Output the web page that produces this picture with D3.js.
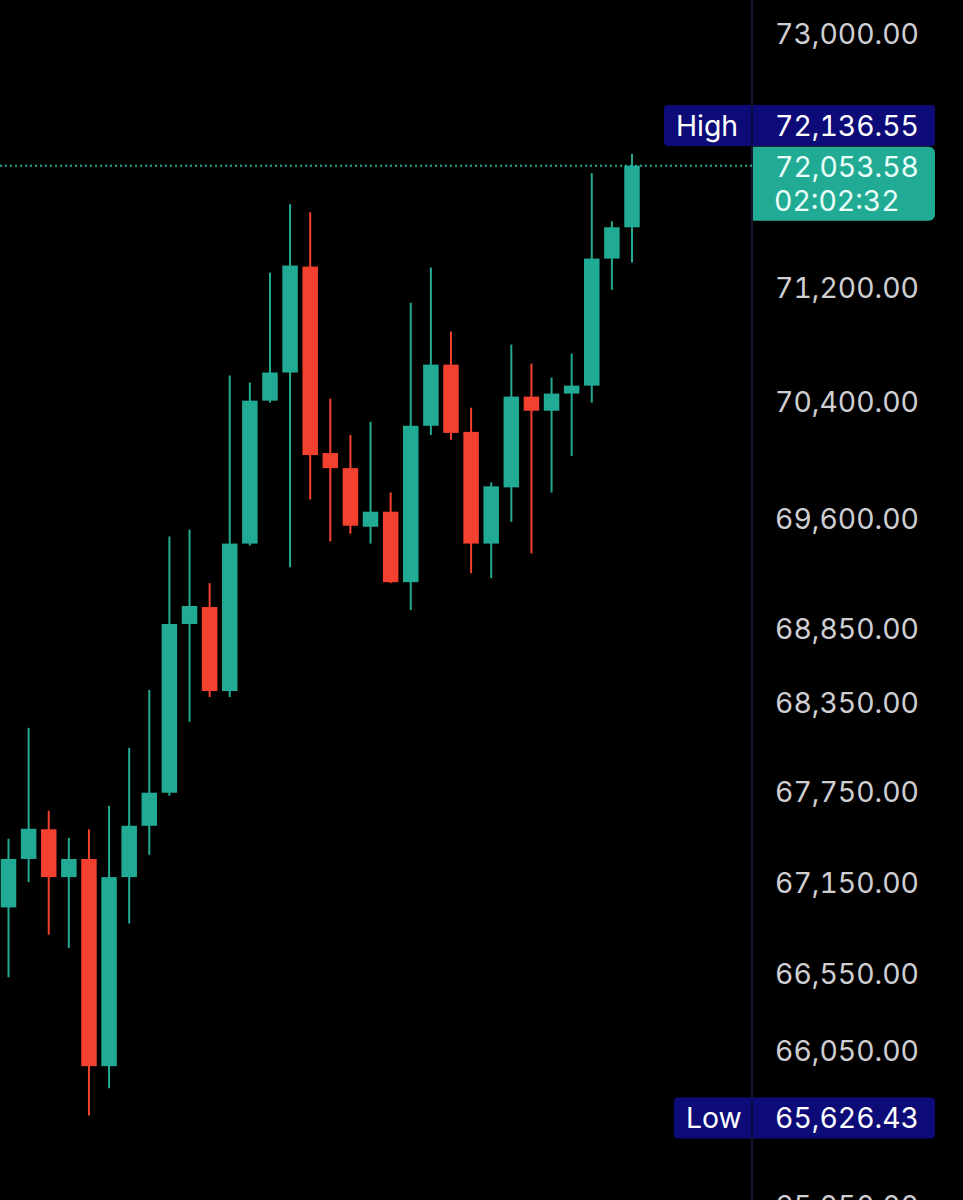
<!DOCTYPE html>
<html><head><meta charset="utf-8">
<script src="https://cdn.jsdelivr.net/npm/d3@7"></script>
<style>html,body{margin:0;padding:0;background:#000;overflow:hidden}
text{font-variant-numeric:tabular-nums;font-feature-settings:"tnum" 1;}</style>
</head><body>
<svg id="c" width="963" height="1200"></svg>
<script>
// ---- data ----
const opens  = [66983,67303,67500,67183,67303,65945,67183,67523,67743,68877,68992,68424,69424,70407,70602,71342,70045,69941,69539,69642,69161,70233,70657,70191,69424,69809,70435,70337,70456,70511,71398,71618];
const highs  = [67437,68177,67623,67443,67500,67657,68043,68431,69472,69519,69154,70581,70532,71299,71781,71724,70421,70170,70261,69774,71089,71335,70887,70358,69843,70796,70664,70567,70734,72001,71661,72136.55];
const lows   = [66524,67150,66803,66717,65626.43,65802,66877,67330,67723,68217,68384,68384,69411,70393,69262,69725,69438,69492,69424,69154,68972,70170,70136,69222,69188,69573,69357,69774,70024,70393,71179,71370];
const closes = [67303,67503,67183,67303,65945,67183,67523,67743,68877,68999,68424,69424,70407,70602,71349,70031,69941,69546,69642,69161,70233,70657,70184,69424,69816,70435,70337,70456,70511,71398,71618,72053.58];
const tickValues = [73000,71200,70400,69600,68850,68350,67750,67150,66550,66050,65050];
const highValue = 72136.55;
const lowValue = 65626.43;
const lastPrice = 72053.58;
const countdown = "02:02:32";
const highText = "High";
const lowText = "Low";

// ---- styles ----
const UP = "#22ab94", DOWN = "#f4402f", NAVY = "#0c0b78", AXISLINE = "#14142e", TICK = "#cfcfd3";
const FONT = "Inter, 'Noto Sans', sans-serif";

const svg = d3.select("#c");
svg.append("rect").attr("width",963).attr("height",1200).attr("fill","#000");

const y = d3.scaleLog().domain([73000,66050]).range([33,1050]);
const idx = d3.range(opens.length);
const x = d3.scaleLinear().domain([0, opens.length-1]).range([8.5, 632]);
const fmt = d3.format(",.2f");

// fit font size so "73,000.00" is ~144px wide
const probe = svg.append("text").attr("font-family",FONT).attr("font-size",100).text("73,000.00");
const w100 = probe.node().getComputedTextLength();
probe.remove();
const FS = 100*144/w100;

// axis separator
svg.append("line").attr("x1",752).attr("x2",752).attr("y1",0).attr("y2",1200)
  .attr("stroke",AXISLINE).attr("stroke-width",2);

// candles
const g = svg.append("g");
const c = g.selectAll("g.candle").data(idx).join("g").attr("class","candle");
c.append("line")
  .attr("x1",i=>x(i)).attr("x2",i=>x(i))
  .attr("y1",i=>y(highs[i])).attr("y2",i=>y(lows[i]))
  .attr("stroke",i=>closes[i]>=opens[i]?UP:DOWN).attr("stroke-width",2);
c.append("rect")
  .attr("x",i=>x(i)-7.75).attr("width",15.5)
  .attr("y",i=>y(Math.max(opens[i],closes[i])))
  .attr("height",i=>Math.max(1.5, y(Math.min(opens[i],closes[i]))-y(Math.max(opens[i],closes[i]))))
  .attr("fill",i=>closes[i]>=opens[i]?UP:DOWN);

// last price dotted line
svg.append("line").attr("x1",0).attr("x2",752).attr("y1",y(lastPrice)).attr("y2",y(lastPrice))
  .attr("stroke",UP).attr("stroke-width",2).attr("stroke-dasharray","2,3");

// y axis tick labels
const axis = d3.axisRight(y).tickValues(tickValues).tickFormat(fmt).tickSize(0).tickPadding(0);
const ag = svg.append("g").attr("transform","translate(919,0)").call(axis);
ag.select(".domain").remove();
ag.selectAll("text").attr("x",0).attr("text-anchor","end").attr("fill",TICK)
  .attr("font-family",FONT).attr("font-size",FS).attr("dy","0.36em");

// High / Low labels
function navyLabel(cy, x0, word, value){
  svg.append("rect").attr("x",x0).attr("y",cy-20.5).attr("width",935-x0).attr("height",41).attr("rx",4).attr("fill",NAVY);
  svg.append("line").attr("x1",752).attr("x2",752).attr("y1",cy-20.5).attr("y2",cy+20.5).attr("stroke","#0a0a40").attr("stroke-width",2);
  svg.append("text").attr("x",x0+12).attr("y",cy).attr("dy","0.36em").attr("fill","#fff")
    .attr("font-family",FONT).attr("font-size",FS).text(word);
  svg.append("text").attr("x",919).attr("y",cy).attr("dy","0.36em").attr("text-anchor","end").attr("fill","#fff")
    .attr("font-family",FONT).attr("font-size",FS).text(fmt(value));
}
navyLabel(125.5, 664, highText, highValue);
navyLabel(1118, 674, lowText, lowValue);

// current price label
const py = y(lastPrice);
svg.append("path").attr("fill",UP)
  .attr("d",`M753,${py-19} H929 a6,6 0 0 1 6,6 V${py+49} a6,6 0 0 1 -6,6 H753 Z`);
svg.append("text").attr("x",919).attr("y",py+1).attr("dy","0.36em").attr("text-anchor","end").attr("fill","#eafffa")
  .attr("font-family",FONT).attr("font-size",FS).text(fmt(lastPrice));
svg.append("text").attr("x",774).attr("y",py+35).attr("dy","0.36em").attr("text-anchor","start").attr("fill","#eafffa")
  .attr("font-family",FONT).attr("font-size",FS).text(countdown);
</script>
</body></html>
